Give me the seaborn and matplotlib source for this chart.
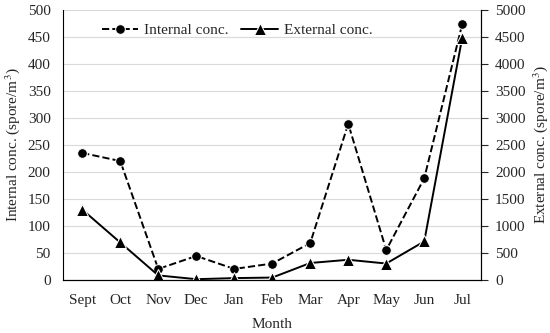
import pandas as pd
import matplotlib
matplotlib.use("Agg")
import matplotlib.pyplot as plt
import seaborn as sns

months = ["Sept", "Oct", "Nov", "Dec", "Jan", "Feb", "Mar", "Apr", "May", "Jun", "Jul"]
internal_conc = [235, 220, 20, 44, 20, 30, 68, 289, 55, 188, 474]
external_conc = [1300, 690, 80, 10, 30, 40, 310, 370, 300, 710, 4490]

sns.set_style("white")
plt.rcParams["font.family"] = ["Liberation Serif", "DejaVu Serif"]
plt.rcParams["mathtext.fontset"] = "stix"

df = pd.DataFrame({"month": months, "internal": internal_conc, "external": external_conc})
df["x"] = range(len(months))

fig, ax = plt.subplots(figsize=(5.5, 3.33), dpi=100)
fig.subplots_adjust(left=0.115, right=0.875, bottom=0.16, top=0.97)
ax2 = ax.twinx()

sns.lineplot(data=df, x="x", y="internal", ax=ax, color="black", linestyle="--",
             marker="o", markersize=7, linewidth=1.4, label="Internal conc.", legend=False)
sns.lineplot(data=df, x="x", y="external", ax=ax2, color="black", linestyle="-",
             marker="^", markersize=8, linewidth=1.4, label="External conc.", legend=False)

ax.set_xlim(-0.5, len(months) - 0.5)
ax.set_ylim(0, 500)
ax2.set_ylim(0, 5000)
ax.set_yticks(range(0, 501, 50))
ax2.set_yticks(range(0, 5001, 500))
ax.set_xticks(df["x"])
ax.set_xticklabels(months)
ax.grid(axis="y", color="#d9d9d9", linewidth=0.8)
ax.set_axisbelow(True)

for a in (ax, ax2):
    a.spines["top"].set_visible(False)
    for s in a.spines.values():
        s.set_color("black")
        s.set_linewidth(0.8)
    a.tick_params(labelsize=11, length=0)
ax.tick_params(axis="y", pad=9)
ax.tick_params(axis="x", pad=10)
ax2.spines["left"].set_visible(False)
ax2.tick_params(axis="y", length=5, direction="out", width=0.8, pad=5)

ax.set_xlabel("Month", fontsize=11, labelpad=8)
ax.set_ylabel("Internal conc. (spore/m$^3$)", fontsize=11)
ax2.set_ylabel("External conc. (spore/m$^3$)", fontsize=11)

h1, l1 = ax.get_legend_handles_labels()
h2, l2 = ax2.get_legend_handles_labels()
ax.legend(h1 + h2, l1 + l2, loc="upper center", ncol=2, frameon=False,
          fontsize=11, bbox_to_anchor=(0.416, 1.0), handlelength=2.4,
          handletextpad=0.4, columnspacing=0.8)

fig.savefig("out.png", dpi=100)
